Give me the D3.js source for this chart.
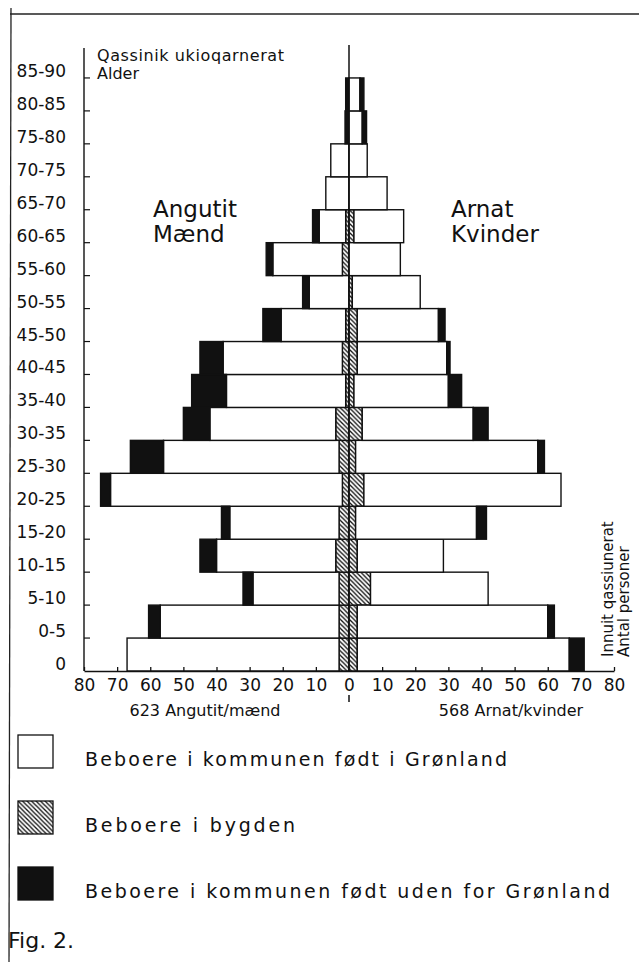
<!DOCTYPE html>
<html>
<head>
<meta charset="utf-8">
<script src="https://cdn.jsdelivr.net/npm/d3@7/dist/d3.min.js"></script>
<style>
  body { margin: 0; background: #fff; }
  text { font-family: "DejaVu Sans", sans-serif; fill: #111; }
</style>
</head>
<body>
<div id="chart"></div>
<script>
// age groups, bottom to top
const ages = ["0", "0-5", "5-10", "10-15", "15-20", "20-25", "25-30", "30-35", "35-40",
              "40-45", "45-50", "50-55", "55-60", "60-65", "65-70", "70-75", "75-80", "80-85", "85-90"];

// Angutit / Mænd (left side)
const maendBygd = [3, 3, 3, 4, 3, 2, 3, 4, 1, 2, 1, 0, 2, 1, 0, 0, 0, 0, 0];
const maendGl   = [64, 54, 26, 36, 33, 70, 53, 38, 36, 36, 19.5, 12, 21, 8, 7, 5.5, 0, 0, 0];
const maendUdl  = [0, 3.5, 3, 5, 2.5, 3, 10, 8, 10.5, 7, 5.5, 2, 2, 2, 0, 0, 1.2, 1, 0];

// Arnat / Kvinder (right side)
const kvinderBygd = [2.5, 2.5, 6.5, 2.5, 2, 4.5, 2, 4, 1.5, 2.5, 2.5, 1, 0, 1.5, 0, 0, 0, 0, 0];
const kvinderGl   = [64, 57.5, 35.5, 26, 36.5, 59.5, 55, 33.5, 28.5, 27, 24.5, 20.5, 15.5, 15, 11.5, 5.5, 4, 3.3, 0];
const kvinderUdl  = [4.5, 2, 0, 0, 3, 0, 2, 4.5, 4, 1, 2, 0, 0, 0, 0, 0, 1.3, 1.2, 0];

const xTicks = [-80, -70, -60, -50, -40, -30, -20, -10, 0, 10, 20, 30, 40, 50, 60, 70, 80];

const legendLabels = ["Beboere i kommunen født i Grønland",
                      "Beboere i bygden",
                      "Beboere i kommunen født uden for Grønland"];

const W = 639, H = 962;
const svg = d3.select("#chart").append("svg")
    .attr("width", W)
    .attr("height", H)
    .attr("viewBox", "0 0 " + W + " " + H);

const defs = svg.append("defs");
const pat = defs.append("pattern")
    .attr("id", "hatch")
    .attr("width", 4.5)
    .attr("height", 4.5)
    .attr("patternUnits", "userSpaceOnUse");
pat.append("rect").attr("width", 4.5).attr("height", 4.5).attr("fill", "#fff");
pat.append("path")
    .attr("d", "M-1,-1L5.5,5.5M-1,3.5L1,5.5M3.5,-1L5.5,1")
    .attr("stroke", "#111")
    .attr("stroke-width", 1.3);

// page frame
svg.append("line").attr("x1", 10).attr("x2", W).attr("y1", 14).attr("y2", 14)
    .attr("stroke", "#222").attr("stroke-width", 1.3);
svg.append("line").attr("x1", 11).attr("x2", 9).attr("y1", 8).attr("y2", H)
    .attr("stroke", "#222").attr("stroke-width", 1.3);

const plotTop = 45, plotBottom = 671;
const x = d3.scaleLinear().domain([-80, 80]).range([84, 614]);
const y = d3.scaleBand().domain(ages).range([plotBottom, plotTop]).padding(0);

const fills = {bygd: "url(#hatch)", gl: "#fff", udl: "#111"};
const keys = ["bygd", "gl", "udl"];

function sideRows(bygd, gl, udl) {
    return ages.map((a, i) => ({age: a, bygd: bygd[i], gl: gl[i], udl: udl[i]}));
}

const sides = [
    {sign: -1, rows: sideRows(maendBygd, maendGl, maendUdl)},
    {sign: 1, rows: sideRows(kvinderBygd, kvinderGl, kvinderUdl)}
];

const stack = d3.stack().keys(keys);
const bars = svg.append("g");

sides.forEach(side => {
    const series = stack(side.rows);
    bars.append("g").selectAll("g")
        .data(series)
        .enter().append("g")
            .attr("fill", d => fills[d.key])
        .selectAll("rect")
        .data(d => d.filter(s => s[1] - s[0] > 0))
        .enter().append("rect")
            .attr("x", d => Math.min(x(side.sign * d[0]), x(side.sign * d[1])))
            .attr("width", d => Math.abs(x(side.sign * d[1]) - x(side.sign * d[0])))
            .attr("y", d => y(d.data.age))
            .attr("height", y.bandwidth())
            .attr("stroke", "#111")
            .attr("stroke-width", 1.4);
});

// centre line
svg.append("line")
    .attr("x1", x(0)).attr("x2", x(0))
    .attr("y1", plotTop).attr("y2", plotBottom)
    .attr("stroke", "#111").attr("stroke-width", 1.5);

// x axis
const xAxis = d3.axisBottom(x)
    .tickValues(xTicks)
    .tickFormat(d => Math.abs(d))
    .tickSizeInner(-4)
    .tickSizeOuter(0)
    .tickPadding(8);
const gx = svg.append("g")
    .attr("transform", "translate(0," + plotBottom + ")")
    .call(xAxis);
gx.select(".domain").attr("stroke", "#111").attr("stroke-width", 1.5);
gx.selectAll(".tick line").attr("stroke", "#111").attr("stroke-width", 1.3);
gx.selectAll(".tick text")
    .attr("font-size", 17)
    .attr("font-family", "DejaVu Sans Condensed, DejaVu Sans, sans-serif")
    .attr("fill", "#111");
svg.append("line")
    .attr("x1", x(0)).attr("x2", x(0)).attr("y1", 695).attr("y2", 702)
    .attr("stroke", "#111").attr("stroke-width", 1.5);

// y axis: line, ticks at the lower edge of each band, labels just above
const yAxis = svg.append("g");
yAxis.append("line")
    .attr("x1", x(-80)).attr("x2", x(-80))
    .attr("y1", plotTop + 3).attr("y2", plotBottom)
    .attr("stroke", "#111").attr("stroke-width", 1.4);
const yt = yAxis.selectAll("g.ytick")
    .data(ages)
    .enter().append("g")
    .attr("class", "ytick")
    .attr("transform", d => "translate(0," + (y(d) + y.bandwidth()) + ")");
yt.filter(d => d !== "0").append("line")
    .attr("x1", x(-80)).attr("x2", x(-80) + 6)
    .attr("stroke", "#111").attr("stroke-width", 1.2);
yt.append("text")
    .attr("x", 66)
    .attr("y", -1)
    .attr("text-anchor", "end")
    .attr("font-size", 17)
    .text(d => d);

// texts inside the plot
svg.append("text").attr("x", 97).attr("y", 61).attr("font-size", 16)
    .attr("letter-spacing", 0.6).text("Qassinik ukioqarnerat");
svg.append("text").attr("x", 97).attr("y", 78.5).attr("font-size", 16).text("Alder");
svg.append("text").attr("x", 153).attr("y", 217).attr("font-size", 23).text("Angutit");
svg.append("text").attr("x", 153).attr("y", 242).attr("font-size", 23).text("Mænd");
svg.append("text").attr("x", 451).attr("y", 217).attr("font-size", 23).text("Arnat");
svg.append("text").attr("x", 451).attr("y", 242).attr("font-size", 23).text("Kvinder");

// totals under the axis
svg.append("text").attr("x", 205).attr("y", 716).attr("font-size", 16)
    .attr("text-anchor", "middle").text("623 Angutit/mænd");
svg.append("text").attr("x", 511).attr("y", 716).attr("font-size", 16)
    .attr("text-anchor", "middle").text("568 Arnat/kvinder");

// rotated unit label
const rot = svg.append("g").attr("transform", "translate(0,657)");
rot.append("text").attr("transform", "translate(613,0) rotate(-90)")
    .attr("font-size", 15).text("Innuit qassiunerat");
rot.append("text").attr("transform", "translate(629,0) rotate(-90)")
    .attr("font-size", 15).text("Antal personer");

// legend
const legendFills = ["#fff", "url(#hatch)", "#111"];
const legendLen = [422, 210, 525];
const lg = svg.append("g").selectAll("g")
    .data(legendLabels)
    .enter().append("g")
    .attr("transform", (d, i) => "translate(0," + (735 + i * 66) + ")");
lg.append("rect")
    .attr("x", 18).attr("width", 35).attr("height", 33)
    .attr("fill", (d, i) => legendFills[i])
    .attr("stroke", "#111").attr("stroke-width", 1.3);
lg.append("text")
    .attr("x", 85).attr("y", 31)
    .attr("font-size", 19)
    .attr("textLength", (d, i) => legendLen[i])
    .attr("lengthAdjust", "spacing")
    .text(d => d);

svg.append("text").attr("x", 8).attr("y", 948).attr("font-size", 22)
    .attr("font-family", "Liberation Sans, sans-serif").text("Fig. 2.");
</script>
</body>
</html>
